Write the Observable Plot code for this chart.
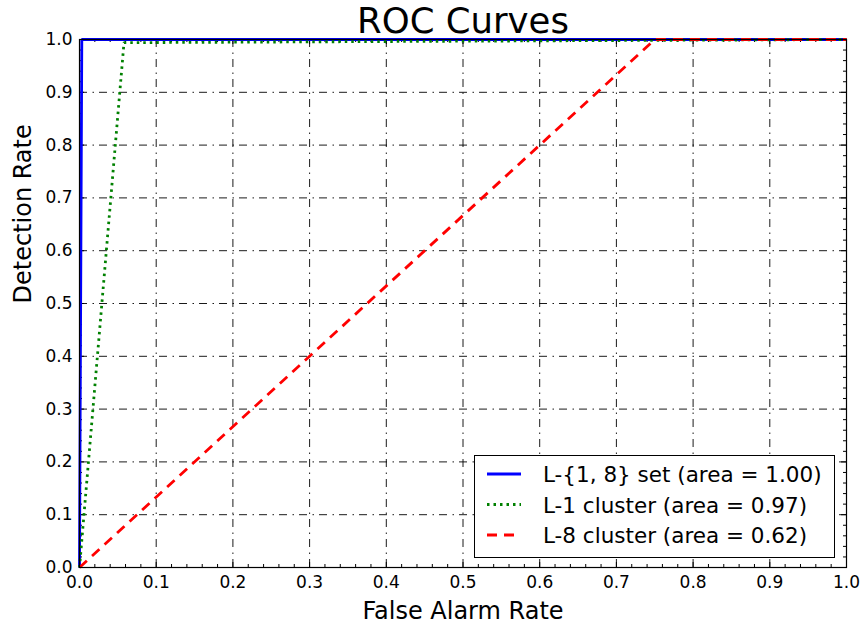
<!DOCTYPE html>
<html>
<head>
<meta charset="utf-8">
<script src="https://cdn.jsdelivr.net/npm/d3@7"></script>
<script src="https://cdn.jsdelivr.net/npm/@observablehq/plot@0.6"></script>
<style>
  html, body { margin: 0; padding: 0; background: #fff; }
  #wrap { position: relative; width: 862px; height: 624px; font-family: "DejaVu Sans", sans-serif; }
  #wrap svg { font-family: "DejaVu Sans", sans-serif; }
  #legend { position: absolute; left: 0; top: 0; pointer-events: none; }
</style>
</head>
<body>
<div id="wrap"></div>
<script>
// ---- data ----
const seriesNames = ["L-{1, 8} set (area = 1.00)", "L-1 cluster (area = 0.97)", "L-8 cluster (area = 0.62)"];
const fprSet = [0, 0.003, 1];
const tprSet = [0, 1.0, 1.0];
const fprL1 = [0, 0.058, 1];
const tprL1 = [0, 0.994, 1.0];
const fprL8 = [0, 0.75, 1];
const tprL8 = [0, 1.0, 1.0];
const xTicks = [0, 0.1, 0.2, 0.3, 0.4, 0.5, 0.6, 0.7, 0.8, 0.9, 1.0];
const yTicks = [0, 0.1, 0.2, 0.3, 0.4, 0.5, 0.6, 0.7, 0.8, 0.9, 1.0];
const gridVals = [0.1, 0.2, 0.3, 0.4, 0.5, 0.6, 0.7, 0.8, 0.9];
const titleText = "ROC Curves";
const xLabel = "False Alarm Rate";
const yLabel = "Detection Rate";

// ---- styles ----
const styles = [
  {stroke: "#0000ff", dash: null},
  {stroke: "#008000", dash: "2.5,4"},
  {stroke: "#ff0000", dash: "10,7"}
];

const toRows = (xs, ys, s) => xs.map((x, i) => ({x, y: ys[i], s}));
const rows = [
  ...toRows(fprSet, tprSet, 0),
  ...toRows(fprL1, tprL1, 1),
  ...toRows(fprL8, tprL8, 2)
];

const W = 862, H = 624;
const mT = 39, mR = 16, mB = 57, mL = 79;
const plotH = H - mT - mB;
const plotW = W - mL - mR;
const minor = d3.range(0, 51).map(i => i / 50).filter(v => Math.round(v * 50) % 5 !== 0);
const fmt = d3.format(".1f");

const chart = Plot.plot({
  width: W, height: H,
  marginTop: mT, marginRight: mR, marginBottom: mB, marginLeft: mL,
  style: {fontFamily: "DejaVu Sans, sans-serif", background: "white", color: "black"},
  x: {domain: [0, 1]},
  y: {domain: [0, 1]},
  marks: [
    Plot.gridX(gridVals, {stroke: "black", strokeOpacity: 1, strokeWidth: 0.9, strokeDasharray: "8,5.5,1.5,5"}),
    Plot.gridY(gridVals, {stroke: "black", strokeOpacity: 1, strokeWidth: 0.9, strokeDasharray: "8,5.5,1.5,5"}),
    // inward ticks on all sides
    Plot.tickX(xTicks, {x: d => d, insetTop: plotH - 5, stroke: "black"}),
    Plot.tickX(xTicks, {x: d => d, insetBottom: plotH - 5, stroke: "black"}),
    Plot.tickX(minor, {x: d => d, insetTop: plotH - 3, stroke: "black"}),
    Plot.tickX(minor, {x: d => d, insetBottom: plotH - 3, stroke: "black"}),
    Plot.tickY(yTicks, {y: d => d, insetRight: plotW - 5, stroke: "black"}),
    Plot.tickY(yTicks, {y: d => d, insetLeft: plotW - 5, stroke: "black"}),
    Plot.tickY(minor, {y: d => d, insetRight: plotW - 3, stroke: "black"}),
    Plot.tickY(minor, {y: d => d, insetLeft: plotW - 3, stroke: "black"}),
    Plot.axisX(xTicks, {tickSize: 0, tickPadding: 8, fontSize: 17, tickFormat: fmt, label: null}),
    Plot.axisY(yTicks, {tickSize: 0, tickPadding: 7, fontSize: 17, tickFormat: fmt, label: null}),
    ...styles.map((st, i) => Plot.line(rows.filter(r => r.s === i), {
      x: "x", y: "y", stroke: st.stroke, strokeWidth: 2.8,
      strokeDasharray: st.dash, strokeLinecap: "butt", strokeLinejoin: "miter"
    })),
    Plot.frame({stroke: "black", strokeWidth: 1.2}),
    Plot.text([titleText], {text: d => d, frameAnchor: "top", lineAnchor: "bottom", dy: -7, fontSize: 35.5, fill: "black"}),
    Plot.text([xLabel], {text: d => d, frameAnchor: "bottom", lineAnchor: "bottom", dy: 51, fontSize: 24, fill: "black"}),
    Plot.text([yLabel], {text: d => d, frameAnchor: "left", lineAnchor: "bottom", rotate: -90, dx: -49, fontSize: 24, fill: "black"})
  ]
});

const wrap = document.getElementById("wrap");
wrap.appendChild(chart);

// ---- legend overlay ----
const ns = "http://www.w3.org/2000/svg";
const leg = document.createElementNS(ns, "svg");
leg.setAttribute("id", "legend");
leg.setAttribute("width", W);
leg.setAttribute("height", H);
const box = document.createElementNS(ns, "rect");
box.setAttribute("x", 474.5); box.setAttribute("y", 455.5);
box.setAttribute("width", 360); box.setAttribute("height", 102);
box.setAttribute("fill", "white"); box.setAttribute("stroke", "black"); box.setAttribute("stroke-width", 1);
leg.appendChild(box);
const rowY = [474, 504.5, 535];
seriesNames.forEach((name, i) => {
  const ln = document.createElementNS(ns, "line");
  ln.setAttribute("x1", 487); ln.setAttribute("x2", 521);
  ln.setAttribute("y1", rowY[i]); ln.setAttribute("y2", rowY[i]);
  ln.setAttribute("stroke", styles[i].stroke);
  ln.setAttribute("stroke-width", 2.8);
  if (styles[i].dash) ln.setAttribute("stroke-dasharray", styles[i].dash);
  leg.appendChild(ln);
  const tx = document.createElementNS(ns, "text");
  tx.setAttribute("x", 543); tx.setAttribute("y", rowY[i] + 8);
  tx.setAttribute("font-size", 21.5);
  tx.setAttribute("fill", "black");
  tx.textContent = name;
  leg.appendChild(tx);
});
wrap.appendChild(leg);
</script>
</body>
</html>
